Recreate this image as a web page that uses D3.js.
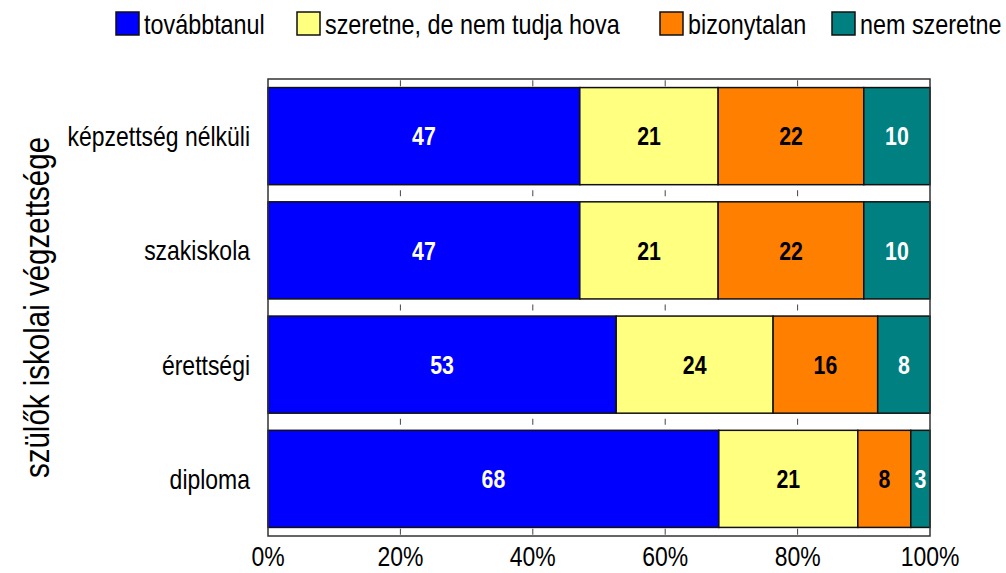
<!DOCTYPE html>
<html>
<head>
<meta charset="utf-8">
<script src="https://cdn.jsdelivr.net/npm/d3@7.9.0/dist/d3.min.js"></script>
<style>
  body { margin: 0; background: #fff; }
  svg { display: block; }
  text { font-family: "Liberation Sans", Arial, sans-serif; }
</style>
</head>
<body>
<svg id="chart" width="1006" height="573"></svg>
<script>
// categories, top to bottom
const categories = ["képzettség nélküli", "szakiskola", "érettségi", "diploma"];
const seriesNames = ["továbbtanul", "szeretne, de nem tudja hova", "bizonytalan", "nem szeretne"];
const seriesColors = ["#0000ff", "#ffff80", "#ff8000", "#008080"];
const labelColors = ["#ffffff", "#000000", "#000000", "#ffffff"];

// percent values per series, one entry per category
const tovabbtanul = [47.1, 47.1, 52.6, 68.1];
const szeretneDeNem = [20.9, 20.9, 23.7, 21.0];
const bizonytalan = [22.0, 22.0, 15.8, 8.0];
const nemSzeretne = [10.0, 10.0, 7.9, 2.9];

const tickValues = [0, 20, 40, 60, 80, 100];
const yTitle = "szülők iskolai végzettsége";

const series = [tovabbtanul, szeretneDeNem, bizonytalan, nemSzeretne];

let rows = categories.map((c, i) => {
    let row = { cat: c };
    seriesNames.forEach((s, j) => row[s] = series[j][i]);
    return row;
});

const svg = d3.select("#chart");
const plotLeft = 268, plotRight = 930, plotTop = 79, plotBottom = 536;
const squeeze = 0.82; // the original uses a narrow font

// place text at (px, py) and squeeze it horizontally
function narrow(sel, px, py, rot = 0) {
    sel.attr("transform", (d, i) => {
        let tx = typeof px === "function" ? px(d, i) : px;
        let ty = typeof py === "function" ? py(d, i) : py;
        return `translate(${tx},${ty}) rotate(${rot}) scale(${squeeze},1)`;
    });
    return sel;
}

let x = d3.scaleLinear().domain([0, 100]).range([plotLeft, plotRight]);
let y = d3.scaleBand().domain(categories).range([plotTop, plotBottom])
    .paddingInner(0.15).paddingOuter(0.075);

let stacked = d3.stack().keys(seriesNames)(rows);

// short grid dashes showing through the gaps between bars
let gapCenters = [plotTop + (y(categories[0]) - plotTop) / 2];
for (let i = 1; i < categories.length; i++) {
    let prevEnd = y(categories[i - 1]) + y.bandwidth();
    gapCenters.push((prevEnd + y(categories[i])) / 2);
}
gapCenters.push((y(categories[categories.length - 1]) + y.bandwidth() + plotBottom) / 2);

tickValues.slice(1, -1).forEach(t => {
    gapCenters.forEach(gc => {
        svg.append("line")
            .attr("x1", x(t)).attr("x2", x(t))
            .attr("y1", gc - 3).attr("y2", gc + 3)
            .attr("stroke", "#444").attr("stroke-width", 1);
    });
});

// bars
stacked.forEach((layer, j) => {
    let g = svg.append("g");
    g.selectAll("rect").data(layer).join("rect")
        .attr("x", d => x(d[0]))
        .attr("y", d => y(d.data.cat))
        .attr("width", d => x(d[1]) - x(d[0]))
        .attr("height", y.bandwidth())
        .attr("fill", seriesColors[j])
        .attr("stroke", "#111")
        .attr("stroke-width", 1.5);

    let labels = g.selectAll("text").data(layer).join("text")
        .attr("dy", "0.36em")
        .attr("text-anchor", "middle")
        .attr("font-size", 26)
        .attr("font-weight", "bold")
        .attr("fill", labelColors[j])
        .text(d => d3.format(".0f")(d[1] - d[0]));
    narrow(labels, d => (x(d[0]) + x(d[1])) / 2, d => y(d.data.cat) + y.bandwidth() / 2);
});

// plot frame
svg.append("rect")
    .attr("x", plotLeft).attr("y", plotTop)
    .attr("width", plotRight - plotLeft).attr("height", plotBottom - plotTop)
    .attr("fill", "none").attr("stroke", "#333").attr("stroke-width", 1.5);

// x tick labels
let tickLabels = svg.append("g").selectAll("text").data(tickValues).join("text")
    .attr("dy", "0.36em")
    .attr("text-anchor", "middle")
    .attr("font-size", 28)
    .text(d => d + "%");
narrow(tickLabels, d => x(d), 556);

// category labels
let catLabels = svg.append("g").selectAll("text").data(categories).join("text")
    .attr("dy", "0.36em")
    .attr("text-anchor", "end")
    .attr("font-size", 28)
    .text(d => d);
narrow(catLabels, 250, d => y(d) + y.bandwidth() / 2);

// y axis title
let title = svg.append("text")
    .attr("dy", "0.36em")
    .attr("text-anchor", "middle")
    .attr("font-size", 36)
    .text(yTitle);
narrow(title, 36, (plotTop + plotBottom) / 2, -90);

// legend
const legendX = [116, 297, 660, 832];
let legend = svg.append("g");
seriesNames.forEach((s, j) => {
    legend.append("rect")
        .attr("x", legendX[j]).attr("y", 12)
        .attr("width", 23).attr("height", 23)
        .attr("fill", seriesColors[j])
        .attr("stroke", "#111").attr("stroke-width", 1.5);
    let t = legend.append("text")
        .attr("dy", "0.36em")
        .attr("font-size", 28.5)
        .text(s);
    narrow(t, legendX[j] + 28, 24);
});
</script>
</body>
</html>
